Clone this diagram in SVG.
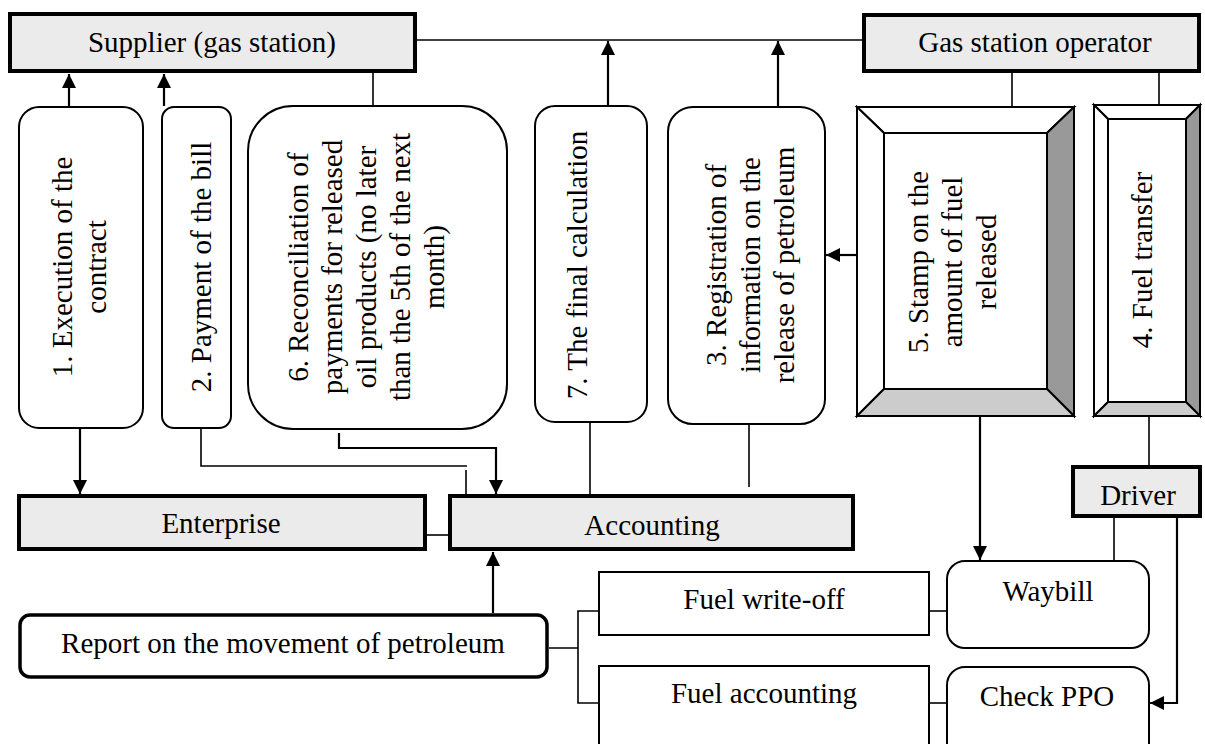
<svg xmlns="http://www.w3.org/2000/svg" width="1205" height="744" viewBox="0 0 1205 744">
<style>
text{font-family:"Liberation Serif","Times New Roman",serif;font-size:29px;fill:#000;text-anchor:middle}
.hd{fill:#ebebeb;stroke:#000;stroke-width:4}
.rb{fill:#fff;stroke:#000;stroke-width:2}
.bv{stroke:#000;stroke-width:2;stroke-linejoin:miter}
.w{fill:#fff}.d{fill:#999}.l{fill:#ccc}
.ln{fill:none;stroke:#000;stroke-width:1.6}
.ar{fill:none;stroke:#000;stroke-width:2.2;marker-end:url(#ah)}
</style>
<defs>
<marker id="ah" markerUnits="userSpaceOnUse" markerWidth="14" markerHeight="14" refX="14" refY="7" orient="auto">
<path d="M0,0 L14,7 L0,14 z" fill="#000"/>
</marker>
</defs>
<rect width="1205" height="744" fill="#fff"/>

<g id="connectors">
<line class="ln" x1="417" y1="40" x2="862" y2="40"/>
<line class="ar" x1="69" y1="106" x2="69" y2="74"/>
<line class="ar" x1="164" y1="106" x2="164" y2="74"/>
<line class="ln" x1="373" y1="73" x2="373" y2="106"/>
<line class="ar" x1="608" y1="105" x2="608" y2="41"/>
<line class="ar" x1="778" y1="106" x2="778" y2="41"/>
<line class="ln" x1="1012" y1="73" x2="1012" y2="107"/>
<line class="ln" x1="1159" y1="73" x2="1159" y2="105"/>
<line class="ar" x1="856" y1="255" x2="826" y2="255"/>
<line class="ar" x1="80" y1="429" x2="80" y2="494"/>
<path class="ln" d="M201,428 V466 H467"/>
<line class="ln" x1="466" y1="470" x2="466" y2="494"/>
<path class="ar" d="M339,433 V448 H496 V494"/>
<line class="ln" x1="590" y1="422" x2="590" y2="494"/>
<line class="ln" x1="749" y1="424" x2="749" y2="487"/>
<line class="ln" x1="427" y1="535" x2="448" y2="535"/>
<line class="ar" x1="493" y1="613" x2="493" y2="552"/>
<path class="ln" d="M549,648 H578 M599,611 H578 V703 H599"/>
<line class="ln" x1="929" y1="611" x2="947" y2="611"/>
<line class="ln" x1="929" y1="703" x2="947" y2="703"/>
<line class="ar" x1="980" y1="417" x2="980" y2="560"/>
<line class="ln" x1="1149" y1="417" x2="1149" y2="465"/>
<line class="ln" x1="1114" y1="518" x2="1114" y2="561"/>
<path class="ar" d="M1177,518 V703 H1150"/>
</g>

<g id="supplier">
<rect class="hd" x="10" y="14" width="405" height="57"/>
<text x="212" y="52">Supplier (gas station)</text>
</g>

<g id="operator">
<rect class="hd" x="864" y="15" width="335" height="56"/>
<text x="1035" y="52">Gas station operator</text>
</g>

<g id="step1">
<rect class="rb" x="19" y="107" width="124" height="321" rx="20"/>
<g transform="translate(72,267) rotate(-90)">
<text x="0" y="0">1. Execution of the</text>
<text x="0" y="34">contract</text>
</g>
</g>

<g id="step2">
<rect class="rb" x="162" y="107" width="69" height="321" rx="12"/>
<text transform="translate(211,267) rotate(-90)" x="0" y="0">2. Payment of the bill</text>
</g>

<g id="step6">
<rect class="rb" x="248" y="106" width="259" height="323" rx="45"/>
<g transform="translate(308,267) rotate(-90)">
<text x="0" y="0">6. Reconciliation of</text>
<text x="0" y="34">payments for released</text>
<text x="0" y="68">oil products (no later</text>
<text x="0" y="102">than the 5th of the next</text>
<text x="0" y="136">month)</text>
</g>
</g>

<g id="step7">
<rect class="rb" x="535" y="106" width="112" height="316" rx="20"/>
<text transform="translate(587,265) rotate(-90)" x="0" y="0">7. The final calculation</text>
</g>

<g id="step3">
<rect class="rb" x="668" y="107" width="157" height="317" rx="25"/>
<g transform="translate(726,265) rotate(-90)">
<text x="0" y="0">3. Registration of</text>
<text x="0" y="34">information on the</text>
<text x="0" y="68">release of petroleum</text>
</g>
</g>

<g id="step5">
<polygon class="bv w" points="857,107 1074,107 1047,133 884,133"/>
<polygon class="bv w" points="857,107 884,133 884,389 857,416"/>
<polygon class="bv d" points="1074,107 1074,416 1047,389 1047,133"/>
<polygon class="bv l" points="857,416 884,389 1047,389 1074,416"/>
<rect class="bv w" x="884" y="133" width="163" height="256"/>
<g transform="translate(928,262) rotate(-90)">
<text x="0" y="0">5. Stamp on the</text>
<text x="0" y="34">amount of fuel</text>
<text x="0" y="68">released</text>
</g>
</g>

<g id="step4">
<polygon class="bv w" points="1094,105 1200,105 1186,119 1108,119"/>
<polygon class="bv w" points="1094,105 1108,119 1108,402 1094,416"/>
<polygon class="bv d" points="1200,105 1200,416 1186,402 1186,119"/>
<polygon class="bv l" points="1094,416 1108,402 1186,402 1200,416"/>
<rect class="bv w" x="1108" y="119" width="78" height="283"/>
<text transform="translate(1152,260) rotate(-90)" x="0" y="0">4. Fuel transfer</text>
</g>

<g id="enterprise">
<rect class="hd" x="19" y="496" width="406" height="53"/>
<text x="221" y="533">Enterprise</text>
</g>

<g id="accounting">
<rect class="hd" x="450" y="496" width="403" height="53"/>
<text x="652" y="535">Accounting</text>
</g>

<g id="driver">
<rect class="hd" x="1073" y="467" width="127" height="49"/>
<text x="1138" y="505">Driver</text>
</g>

<g id="report">
<rect x="20" y="615" width="527" height="62" rx="10" fill="#fff" stroke="#000" stroke-width="3.5"/>
<text x="283" y="653">Report on the movement of petroleum</text>
</g>

<g id="writeoff">
<rect class="rb" x="599" y="572" width="330" height="63"/>
<text x="764" y="609">Fuel write-off</text>
</g>

<g id="fuelaccounting">
<rect class="rb" x="599" y="666" width="330" height="100"/>
<text x="764" y="703">Fuel accounting</text>
</g>

<g id="waybill">
<rect class="rb" x="947" y="561" width="202" height="87" rx="18"/>
<text x="1048" y="601">Waybill</text>
</g>

<g id="checkppo">
<rect class="rb" x="947" y="667" width="202" height="100" rx="18"/>
<text x="1047" y="706">Check PPO</text>
</g>
</svg>
